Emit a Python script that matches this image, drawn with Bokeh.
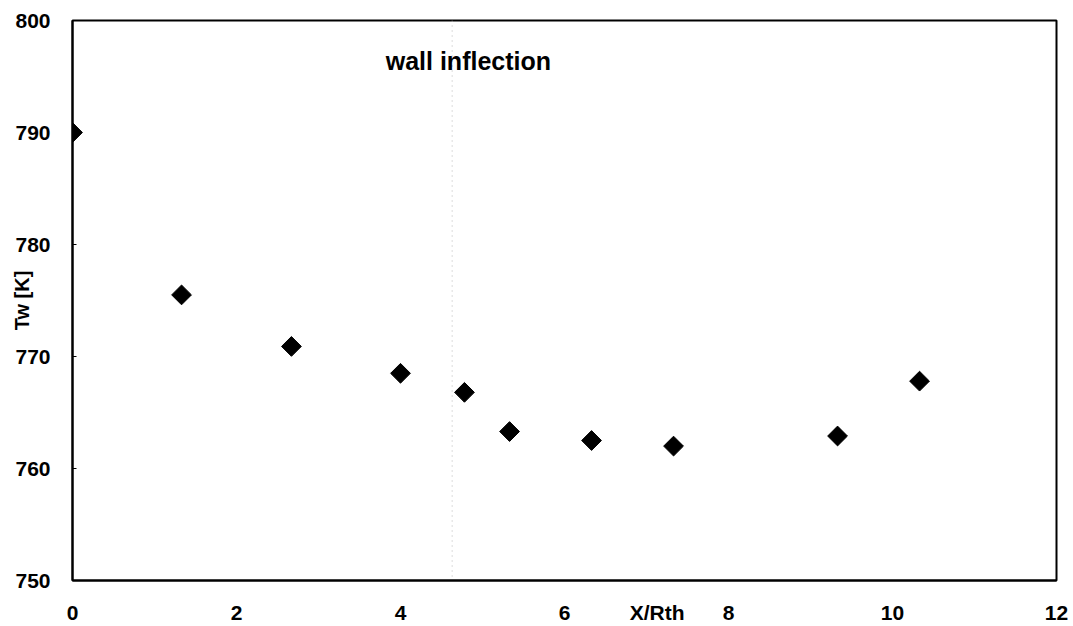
import math
from bokeh.plotting import figure
from bokeh.models import Range1d, Label, Span, FixedTicker
from bokeh.embed import file_html
from bokeh.resources import INLINE

# data
x_rth = [0.0, 1.33, 2.67, 4.0, 4.78, 5.33, 6.33, 7.33, 9.33, 10.33]
tw_k = [790.0, 775.5, 770.9, 768.5, 766.8, 763.3, 762.5, 762.0, 762.9, 767.8]
wall_inflection_x = 4.63
x_ticks = [0, 2, 4, 6, 8, 10, 12]
y_ticks = [750, 760, 770, 780, 790, 800]
x_title = "X/Rth"
x_title_pos = 7.13
y_title = "Tw [K]"

FONT = "Liberation Sans"

p = figure(width=1068, height=626, output_backend="svg", toolbar_location=None,
           x_range=Range1d(0, 12), y_range=Range1d(750, 800))
p.min_border_left = 72
p.min_border_top = 20
p.min_border_right = 12
p.min_border_bottom = 44

p.grid.visible = False
p.outline_line_color = "black"
p.outline_line_width = 2
p.background_fill_color = "white"
p.border_fill_color = "white"

for ax in (p.xaxis[0], p.yaxis[0]):
    ax.axis_line_color = "black"
    ax.axis_line_width = 2
    ax.major_tick_in = 4
    ax.major_tick_out = 0
    ax.minor_tick_line_color = None
    ax.major_label_text_font = FONT
    ax.major_label_text_font_style = "bold"
    ax.major_label_text_font_size = "21px"
    ax.major_label_text_color = "black"

xa = p.xaxis[0]
xa.ticker = FixedTicker(ticks=x_ticks + [x_title_pos])
xa.major_label_overrides = {x_title_pos: x_title}
xa.major_tick_in = 0
xa.major_label_standoff = 20

ya = p.yaxis[0]
ya.ticker = FixedTicker(ticks=y_ticks)
ya.major_label_standoff = 22
ya.axis_label = y_title
ya.axis_label_text_font = FONT
ya.axis_label_text_font_style = "bold"
ya.axis_label_text_font_size = "20px"
ya.axis_label_text_color = "black"
ya.axis_label_standoff = -21

# wall inflection line
p.add_layout(Span(location=wall_inflection_x, dimension="height", line_color="#b8b8b8",
                  line_width=1, line_dash="1 4"))

p.scatter(x_rth, tw_k, marker="square", angle=math.pi / 4, size=14,
          fill_color="black", line_color="black")

p.add_layout(Label(x=3.82, y=796.4, text="wall inflection", text_font=FONT,
                   text_font_style="bold", text_font_size="25px", text_color="black",
                   text_baseline="middle", text_align="left"))

open("out.html", "w").write(file_html(p, INLINE))
